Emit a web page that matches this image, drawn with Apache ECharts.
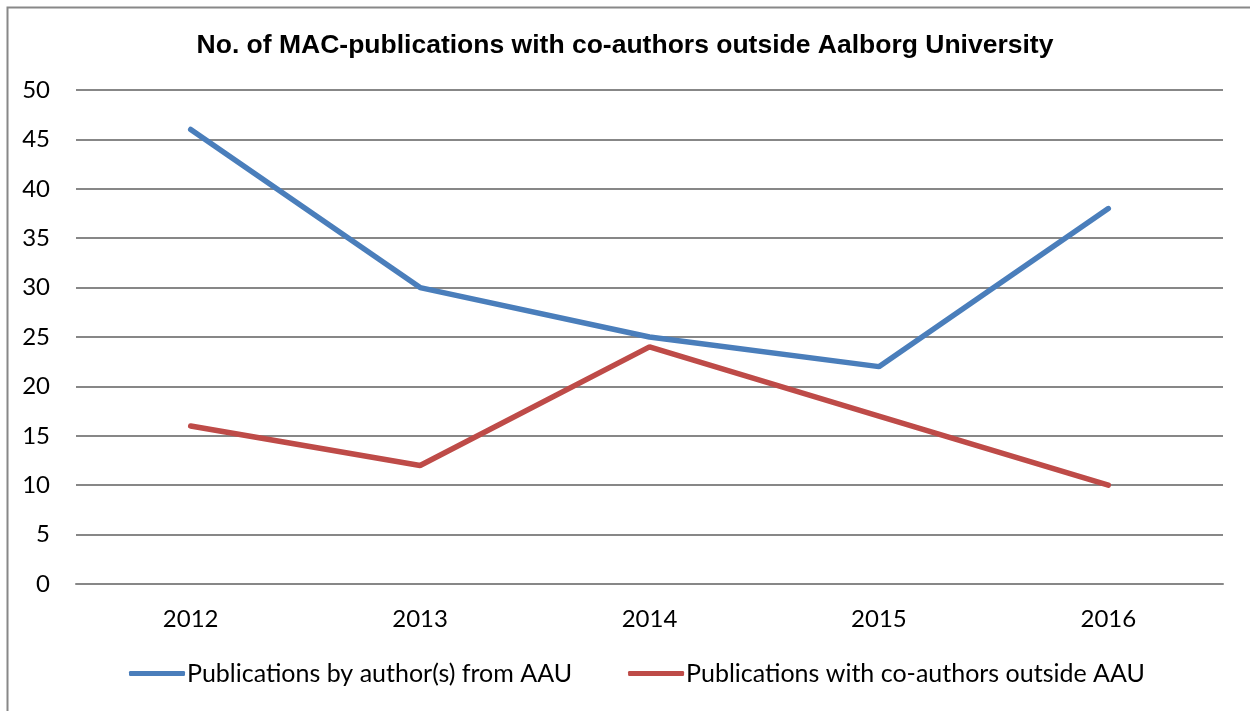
<!DOCTYPE html>
<html>
<head>
<meta charset="utf-8">
<script src="https://cdn.jsdelivr.net/npm/echarts@6/dist/echarts.min.js"></script>
<style>
  html, body { margin: 0; padding: 0; background: #fff; }
  #chart { width: 1250px; height: 711px; }
</style>
</head>
<body>
<div id="chart"></div>
<script>
const years = ['2012', '2013', '2014', '2015', '2016']
const byAAU = [46, 30, 25, 22, 38]
const withOutside = [16, 12, 24, 17, 10]

const chart = echarts.init(document.getElementById('chart'))
const labelFont = 'Lato, "Open Sans", sans-serif'

chart.setOption({
  animation: false,
  backgroundColor: '#fff',
  graphic: [{
    type: 'rect',
    shape: { x: 7.5, y: 7.5, width: 1260, height: 720 },
    style: { fill: 'none', stroke: '#888', lineWidth: 2 },
    silent: true,
  }],
  title: {
    text: 'No. of MAC-publications with co-authors outside Aalborg University',
    left: 'center',
    top: 27,
    textStyle: { fontFamily: '"Liberation Sans", Arial, sans-serif', fontWeight: 'bold', fontSize: 26.5, color: '#000' },
  },
  grid: { left: 76, right: 27, top: 90, bottom: 127 },
  legend: {
    bottom: 20,
    left: 124,
    itemWidth: 56,
    itemHeight: 5,
    itemGap: 56,
    icon: 'roundRect',
    textStyle: { fontFamily: labelFont, fontSize: 25, color: '#000', padding: [0, 0, 0, -3] },
    data: ['Publications by author(s) from AAU', 'Publications with co-authors outside AAU'],
  },
  xAxis: {
    type: 'category',
    data: years,
    axisLine: { lineStyle: { color: '#878787', width: 2 } },
    axisTick: { show: false },
    axisLabel: { fontFamily: labelFont, fontSize: 24, color: '#000', margin: 23 },
  },
  yAxis: {
    type: 'value',
    min: 0, max: 50, interval: 5,
    axisLine: { show: false },
    axisTick: { show: false },
    splitLine: { lineStyle: { color: '#878787', width: 2 } },
    axisLabel: { fontFamily: labelFont, fontSize: 24, color: '#000', margin: 26 },
  },
  series: [
    {
      name: 'Publications by author(s) from AAU',
      type: 'line',
      data: byAAU,
      symbol: 'none',
      lineStyle: { color: '#4a7ebb', width: 5.5, cap: 'round' },
      itemStyle: { color: '#4a7ebb' },
    },
    {
      name: 'Publications with co-authors outside AAU',
      type: 'line',
      data: withOutside,
      symbol: 'none',
      lineStyle: { color: '#be4b48', width: 5.5, cap: 'round' },
      itemStyle: { color: '#be4b48' },
    },
  ],
})
</script>
</body>
</html>
